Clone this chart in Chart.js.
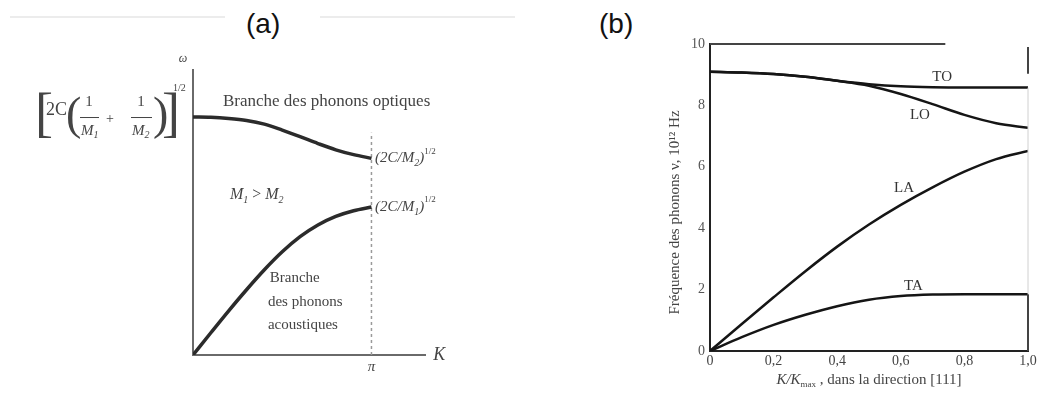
<!DOCTYPE html>
<html>
<head>
<meta charset="utf-8">
<script src="https://cdn.jsdelivr.net/npm/chart.js@4.4.1/dist/chart.umd.min.js"></script>
<style>
  body { margin: 0; background: #fff; width: 1038px; height: 403px; overflow: hidden; position: relative;
         font-family: "Liberation Sans", Arial, sans-serif; }
  .panel { position: absolute; top: 0; height: 403px; }
  #pa { left: 0; width: 520px; }
  #pb { left: 640px; width: 398px; }
  .tag { position: absolute; font-size: 28px; color: #111; line-height: 1; }
  .rule { position: absolute; top: 16px; height: 2px; background: #ececec; }
</style>
</head>
<body>
<div class="rule" style="left:10px;width:215px"></div>
<div class="rule" style="left:320px;width:195px"></div>
<div class="tag" style="left:246px;top:10px">(a)</div>
<div class="tag" style="left:599px;top:10px">(b)</div>
<div class="panel" id="pa"><canvas id="chartA"></canvas></div>
<div class="panel" id="pb"><canvas id="chartB"></canvas></div>

<script>
// ---- data ----
// (a) diatomic chain, K in units of pi/a, omega in arbitrary units
const kA = [0, 0.1, 0.2, 0.3, 0.4, 0.5, 0.6, 0.7, 0.8, 0.9, 1.0];
const optiqueA = [0.835, 0.834, 0.83, 0.823, 0.81, 0.789, 0.766, 0.742, 0.72, 0.703, 0.69];
const acoustiqueA = [0, 0.078, 0.155, 0.229, 0.299, 0.362, 0.415, 0.456, 0.486, 0.506, 0.519];
const limiteA = [0, 0.78]; // dashed line at K = pi

// (b) phonon frequencies, 10^12 Hz, along [111]
const kB = [0, 0.1, 0.2, 0.3, 0.4, 0.5, 0.6, 0.7, 0.8, 0.9, 1.0];
const toB = [9.10, 9.07, 9.02, 8.93, 8.80, 8.69, 8.62, 8.59, 8.58, 8.58, 8.58];
const loB = [9.10, 9.07, 9.02, 8.93, 8.80, 8.64, 8.37, 8.04, 7.69, 7.42, 7.27];
const laB = [0, 0.88, 1.75, 2.60, 3.40, 4.12, 4.76, 5.33, 5.84, 6.25, 6.52];
const taB = [0, 0.45, 0.85, 1.18, 1.46, 1.67, 1.79, 1.84, 1.85, 1.85, 1.85];
const xTicksB = ['0', '0,2', '0,4', '0,6', '0,8', '1,0'];
const yTicksB = ['0', '2', '4', '6', '8', '10'];

const serif = '"Liberation Serif", "Times New Roman", serif';
const pts = (xs, ys) => ys.map((y, i) => ({ x: xs[i], y }));

// draws a run of text pieces [text, font, dy] one after the other
function runs(ctx, x, y, parts) {
  for (const [t, f, dy] of parts) {
    ctx.font = f;
    ctx.fillText(t, x, y + (dy || 0));
    x += ctx.measureText(t).width;
  }
  return x;
}
function runsWidth(ctx, parts) {
  let w = 0;
  for (const [t, f] of parts) { ctx.font = f; w += ctx.measureText(t).width; }
  return w;
}

// ---- panel (a) annotations ----
const labelsA = {
  id: 'labelsA',
  afterDraw(chart) {
    const { ctx, scales: { x, y } } = chart;
    const X = v => x.getPixelForValue(v), Y = v => y.getPixelForValue(v);
    ctx.save();
    ctx.fillStyle = '#444';
    ctx.textBaseline = 'middle';
    ctx.textAlign = 'left';

    ctx.font = '17px ' + serif;
    ctx.fillText('Branche des phonons optiques', X(0.168), Y(0.888));

    const it = 'italic 15px ' + serif, sub = 'italic 10px ' + serif, sup = '9px ' + serif;
    runs(ctx, X(1.02), Y(optiqueA[10]), [['(2C/', it], ['M', it], ['2', sub, 5], [')', it], ['1/2', sup, -7]]);
    runs(ctx, X(1.02), Y(acoustiqueA[10]), [['(2C/', it], ['M', it], ['1', sub, 5], [')', it], ['1/2', sup, -7]]);

    runs(ctx, X(0.207), Y(0.561), [['M', 'italic 16px ' + serif], ['1', 'italic 10px ' + serif, 5],
      [' > ', '16px ' + serif], ['M', 'italic 16px ' + serif], ['2', 'italic 10px ' + serif, 5]]);

    ctx.font = '15px ' + serif;
    ctx.fillText('Branche', X(0.43), Y(0.27));
    ctx.fillText('des phonons', X(0.42), Y(0.186));
    ctx.fillText('acoustiques', X(0.42), Y(0.105));

    // axis names
    ctx.textAlign = 'center';
    ctx.font = 'italic 12px ' + serif;
    ctx.fillText('ω', X(-0.056), Y(1.04));
    ctx.font = 'italic 18px ' + serif;
    ctx.fillText('K', X(1.38), Y(0));
    ctx.font = 'italic 15px ' + serif;
    ctx.fillText('π', X(1), Y(-0.042));

    // [2C(1/M1 + 1/M2)]^1/2 next to the top of the optical branch
    ctx.translate(X(0) - 193, Y(optiqueA[0]) - 117);
    ctx.textAlign = 'left';
    ctx.font = '54px ' + serif;
    ctx.fillText('[', 35, 117);
    ctx.fillText(']', 162, 117);
    ctx.font = '46px ' + serif;
    ctx.fillText('(', 66, 117);
    ctx.fillText(')', 153, 117);
    ctx.font = '18px ' + serif;
    ctx.fillText('2C', 46, 110);
    ctx.textAlign = 'center';
    ctx.font = '15px ' + serif;
    ctx.fillText('1', 89, 102);
    ctx.fillText('1', 141, 102);
    ctx.font = '14px ' + serif;
    ctx.fillText('+', 110, 119);
    ctx.textAlign = 'left';
    runs(ctx, 81, 131, [['M', 'italic 15px ' + serif], ['1', 'italic 10px ' + serif, 4]]);
    runs(ctx, 132, 131, [['M', 'italic 15px ' + serif], ['2', 'italic 10px ' + serif, 4]]);
    ctx.font = '10px ' + serif;
    ctx.fillText('1/2', 173, 88);
    ctx.strokeStyle = '#444';
    ctx.lineWidth = 1;
    ctx.beginPath();
    ctx.moveTo(80, 117.5); ctx.lineTo(99, 117.5);
    ctx.moveTo(131, 117.5); ctx.lineTo(152, 117.5);
    ctx.stroke();
    ctx.restore();
  }
};

new Chart(document.getElementById('chartA'), {
  type: 'line',
  data: {
    datasets: [
      { data: pts(kA, optiqueA), borderColor: '#2b2b2b', borderWidth: 3.5, pointRadius: 0, cubicInterpolationMode: 'monotone' },
      { data: pts(kA, acoustiqueA), borderColor: '#2b2b2b', borderWidth: 3.5, pointRadius: 0, cubicInterpolationMode: 'monotone' },
      { data: pts([1, 1], limiteA), borderColor: '#9a9a9a', borderWidth: 1.5, borderDash: [3, 3], pointRadius: 0 }
    ]
  },
  options: {
    responsive: true,
    maintainAspectRatio: false,
    animation: false,
    layout: { padding: { left: 193, right: 95, top: 70, bottom: 48 } },
    plugins: { legend: { display: false }, tooltip: { enabled: false } },
    scales: {
      x: { type: 'linear', min: 0, max: 1.3, afterFit: s => { s.height = 0; },
           grid: { display: false, drawTicks: false }, ticks: { display: false },
           border: { color: '#6a6a6a', width: 2 } },
      y: { min: 0, max: 1, afterFit: s => { s.width = 0; },
           grid: { display: false, drawTicks: false }, ticks: { display: false },
           border: { color: '#6a6a6a', width: 2 } }
    }
  },
  plugins: [labelsA]
});

// ---- panel (b) annotations ----
const labelsB = {
  id: 'labelsB',
  afterDraw(chart) {
    const { ctx, chartArea, scales: { x, y } } = chart;
    const X = v => x.getPixelForValue(v), Y = v => y.getPixelForValue(v);
    ctx.save();
    // frame pieces: top line and right edge
    ctx.lineWidth = 2;
    ctx.strokeStyle = '#444';
    ctx.beginPath();
    ctx.moveTo(X(0), Y(10)); ctx.lineTo(X(0.74), Y(10));
    ctx.moveTo(X(1), Y(9.9)); ctx.lineTo(X(1), Y(9.03));
    ctx.moveTo(X(1), Y(0)); ctx.lineTo(X(1), Y(taB[taB.length - 1]));
    ctx.stroke();
    ctx.lineWidth = 1;
    ctx.strokeStyle = '#d0d0d0';
    ctx.beginPath();
    ctx.moveTo(X(1), Y(taB[taB.length - 1])); ctx.lineTo(X(1), Y(toB[toB.length - 1]));
    ctx.stroke();

    ctx.fillStyle = '#333';
    ctx.textAlign = 'center';
    ctx.textBaseline = 'middle';
    ctx.font = '15px ' + serif;
    ctx.fillText('TO', X(0.73), Y(8.93));
    ctx.fillText('LO', X(0.66), Y(7.69));
    ctx.fillText('LA', X(0.61), Y(5.32));
    ctx.fillText('TA', X(0.64), Y(2.13));

    // x title with subscript
    ctx.textAlign = 'left';
    ctx.fillStyle = '#444';
    const parts = [['K/K', 'italic 15px ' + serif], ['max', '9px ' + serif, 5], [' , dans la direction [111]', '15px ' + serif]];
    const w = runsWidth(ctx, parts);
    runs(ctx, (X(0) + X(1)) / 2 - w / 2, chartArea.bottom + 29, parts);

    // y title, rotated
    ctx.translate(35, (Y(0) + Y(10)) / 2 + 15);
    ctx.rotate(-Math.PI / 2);
    ctx.textAlign = 'center';
    ctx.font = '15px ' + serif;
    ctx.fillText('Fréquence des phonons ν, 10¹² Hz', 0, 0);
    ctx.restore();
  }
};

const lineB = (ys) => ({ data: pts(kB, ys), borderColor: '#151515', borderWidth: 2.5, pointRadius: 0,
                         cubicInterpolationMode: 'monotone' });

new Chart(document.getElementById('chartB'), {
  type: 'line',
  data: { datasets: [lineB(toB), lineB(loB), lineB(laB), lineB(taB)] },
  options: {
    responsive: true,
    maintainAspectRatio: false,
    animation: false,
    layout: { padding: { left: 0, right: 10, top: 44, bottom: 0 } },
    plugins: { legend: { display: false }, tooltip: { enabled: false } },
    scales: {
      x: {
        type: 'linear', min: 0, max: 1,
        afterFit: s => { s.height = 52; s.paddingLeft = 0; s.paddingRight = 0; },
        grid: { display: false, drawTicks: false },
        border: { color: '#222', width: 2 },
        ticks: { stepSize: 0.2, padding: 2, color: '#444', maxRotation: 0,
                 font: { family: serif, size: 14 }, callback: (v, i) => xTicksB[i] }
      },
      y: {
        min: 0, max: 10,
        afterFit: s => { s.width = 70; },
        grid: { display: false, drawTicks: false },
        border: { color: '#222', width: 2 },
        ticks: { stepSize: 2, padding: 5, color: '#555',
                 font: { family: serif, size: 14 }, callback: (v, i) => yTicksB[i] }
      }
    }
  },
  plugins: [labelsB]
});
</script>
</body>
</html>
